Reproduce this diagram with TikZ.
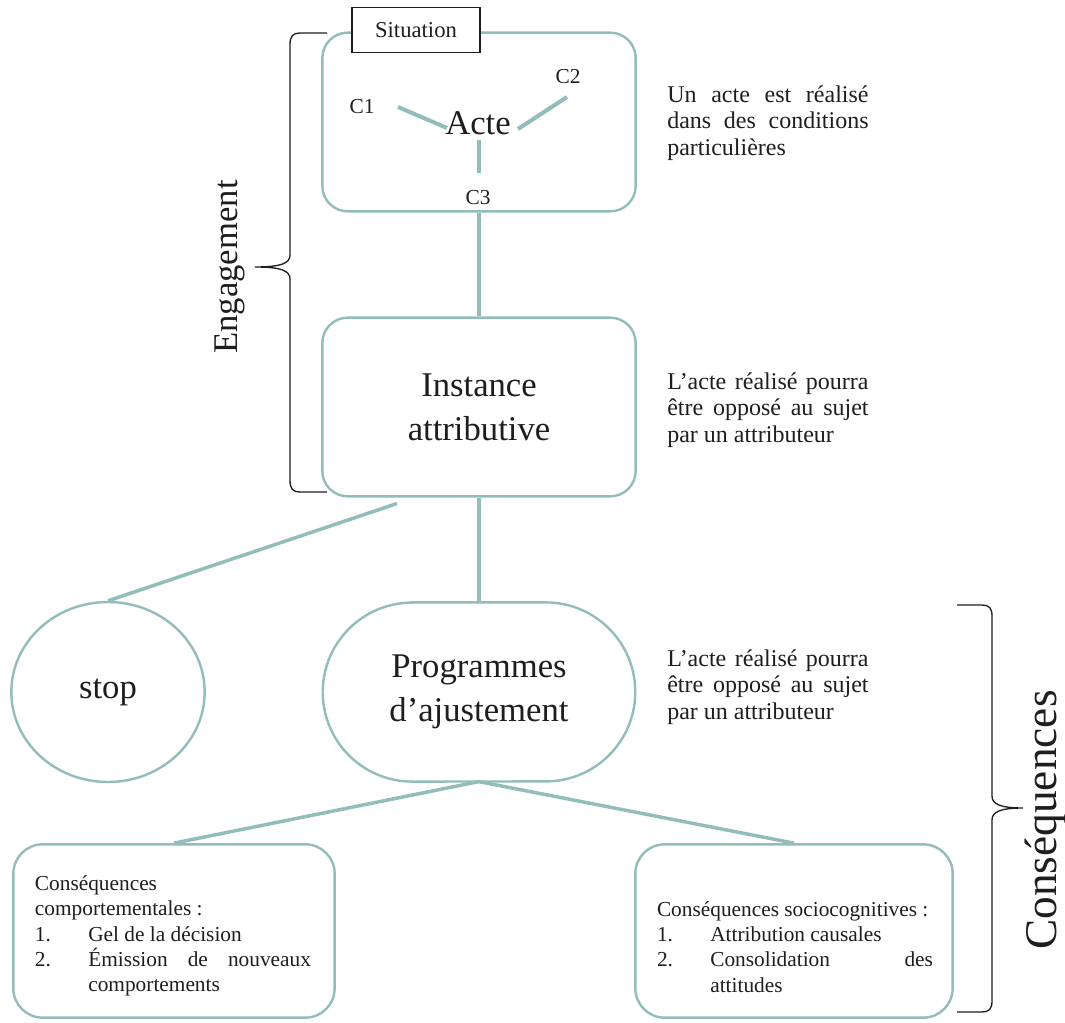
\documentclass[tikz,border=0pt]{standalone}
\usepackage{fontspec}
\setmainfont{Liberation Serif}
\usetikzlibrary{calc,shapes.geometric}
\definecolor{tealline}{RGB}{146,189,186}
\definecolor{ink}{RGB}{30,30,30}
\newcommand{\numline}[2]{\par\noindent\hangindent=40pt\hangafter=1\makebox[40pt][l]{#1}#2}

\begin{document}
\begin{tikzpicture}[x=0.75pt,y=0.75pt,yscale=-1,xscale=1,
  boxline/.style={draw=tealline,line width=1.8pt},
  linkline/.style={draw=tealline,line width=2.6pt},
  bigtxt/.style={font=\fontsize{26}{33}\selectfont,text=ink},
  smalltxt/.style={font=\fontsize{16}{19}\selectfont,text=ink},
  bigbox/.style={boxline,bigtxt,rounded corners=19pt,minimum width=235pt,minimum height=134pt,align=center},
  desctxt/.style={anchor=west,inner sep=0pt,text width=151pt,align=justify,font=\fontsize{18}{20}\selectfont,text=ink},
  consbox/.style={boxline,rounded corners=22pt,minimum height=130pt},
  constxt/.style={inner sep=0pt,text width=207pt,align=justify,font=\fontsize{16}{19}\selectfont,text=ink},
  bracket/.style={draw=ink,line width=1pt}]

\fill[white] (0,0) rectangle (1065,1023);
\useasboundingbox (0,0) rectangle (1065,1023);

% begin engagement
\node[bigbox] (actebox) at (479,122) {};
\node[draw=ink,fill=white,line width=1pt,minimum width=96pt,minimum height=34pt,font=\fontsize{17}{20}\selectfont,text=ink] (situation) at (416,30) {Situation};
\node[bigtxt] (acte) at (478,123) {Acte};
\node[smalltxt] (c1) at (362,107) {C1};
\node[smalltxt] (c2) at (568,77) {C2};
\node[smalltxt] (c3) at (478,198) {C3};
\draw[linkline,line width=3pt] ($(c1)+(36,0)$) -- ($(acte)+(-31,5)$);
\draw[linkline,line width=3pt] ($(c2)+(-1,20)$) -- ($(acte)+(40,6)$);
\draw[linkline,line width=3pt] ($(acte)+(1,17)$) -- ($(c3)+(1,-25)$);

\node[bigbox] (inst) at (479,407) {Instance\\attributive};
\draw[linkline] (actebox) -- (inst);

\node[desctxt] (desc1) at (667,123) {Un acte est réalisé\linebreak dans des conditions\linebreak particulières};
\node[desctxt] (desc2) at (667,410) {L'acte réalisé pourra\linebreak être opposé au sujet\linebreak par un attributeur};

\draw[bracket] (327,33) -- (300,33) .. controls (293,33) and (290,36) .. (290,45) -- (290,255) .. controls (290,263) and (282,267) .. (255,267) .. controls (282,267) and (290,271) .. (290,279) -- (290,480) .. controls (290,489) and (293,492) .. (300,492) -- (327,492);
\node[bigtxt,rotate=90] (engage) at (230,267) {Engagement};

% begin consequences
\node[boxline,bigtxt,ellipse,minimum width=145pt,minimum height=135pt] (stop) at (108,692) {stop};
\node[bigtxt,minimum width=234pt,minimum height=134pt,align=center] (prog) at (479,692) {Programmes\\d'ajustement};
\draw[boxline] ($(prog.north west)+(89.5,0)$) -- ($(prog.north east)+(-89.5,0)$) arc[start angle=-90,end angle=90,radius=89.5] -- ($(prog.south west)+(89.5,0)$) arc[start angle=90,end angle=270,radius=89.5] -- cycle;
\coordinate (stopfoot) at ($(inst.south)+(-82,6)$);
\draw[linkline] (stopfoot) -- (stop.north);
\draw[linkline] (inst) -- (prog);

\node[desctxt] (desc3) at (667,687) {L'acte réalisé pourra\linebreak être opposé au sujet\linebreak par un attributeur};

\node[consbox,minimum width=241pt] (consL) at (174,931) {};
\node[consbox,minimum width=238pt] (consR) at (794,931) {};
\node[constxt] (consLtxt) at (173,936) {Conséquences\\comportementales~:
  \numline{1.}{Gel de la décision}
  \numline{2.}{Émission de nouveaux\linebreak comportements}\par};
\node[constxt] (consRtxt) at (795,947) {Conséquences sociocognitives~:
  \numline{1.}{Attribution causales}
  \numline{2.}{Consolidation des\linebreak attitudes}\par};
\draw[linkline] (prog.south) -- (consL.north);
\draw[linkline] (prog.south) -- (consR.north);

\draw[bracket] (957,605) -- (982,605) .. controls (989,605) and (992,608) .. (992,616) -- (992,796) .. controls (992,804) and (1000,808) .. (1023,808) .. controls (1000,808) and (992,812) .. (992,820) -- (992,1001) .. controls (992,1009) and (989,1012) .. (982,1012) -- (957,1012);
\node[font=\fontsize{34}{40}\selectfont,text=ink,rotate=90,inner sep=0pt] (conseq) at (1046,820) {Conséquences};
\end{tikzpicture}
\end{document}
